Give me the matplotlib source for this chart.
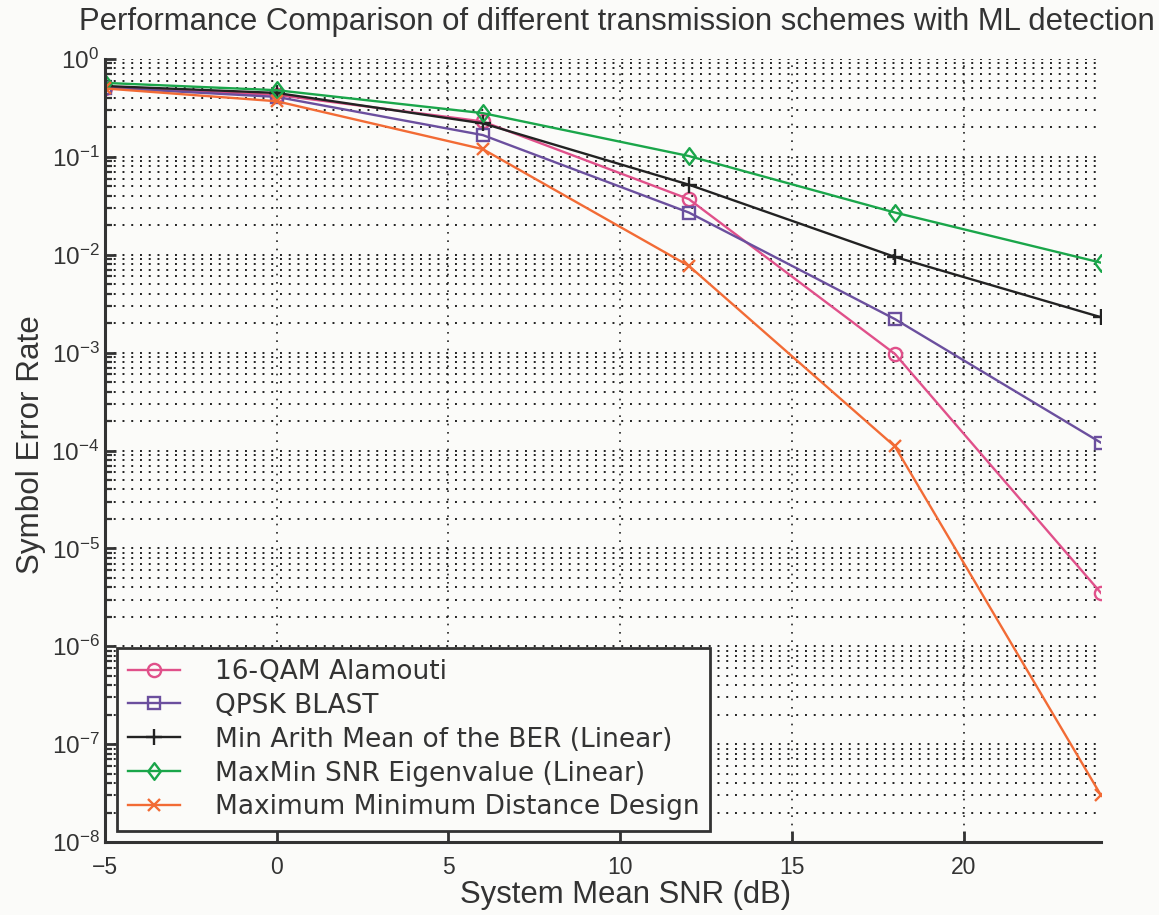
import matplotlib
matplotlib.use("Agg")
import matplotlib.pyplot as plt
from matplotlib.ticker import LogLocator, NullFormatter, FixedLocator
from matplotlib.path import Path

plt.rcParams['font.family'] = ['Liberation Sans', 'DejaVu Sans']

snr = [-5, 0, 6, 12, 18, 24]
ser_alamouti = [0.51, 0.43, 0.23, 0.037, 0.00097, 3.5e-6]
ser_blast = [0.51, 0.41, 0.167, 0.027, 0.0022, 1.2e-4]
ser_minarith = [0.53, 0.45, 0.22, 0.052, 0.0095, 0.0023]
ser_maxmin = [0.57, 0.48, 0.28, 0.102, 0.027, 0.0083]
ser_maxmindist = [0.50, 0.37, 0.12, 0.0077, 1.1e-4, 3.0e-8]

labels = ["16-QAM Alamouti", "QPSK BLAST", "Min Arith Mean of the BER (Linear)",
          "MaxMin SNR Eigenvalue (Linear)", "Maximum Minimum Distance Design"]
xticks = [-5, 0, 5, 10, 15, 20]

bg = '#fbfbf9'
txt = '#333333'
W, H = 1159, 915
fig = plt.figure(figsize=(W / 100, H / 100), dpi=100, facecolor=bg)
ax_l, ax_r, ax_t, ax_b = 105, 1101, 59, 842
ax = fig.add_axes([ax_l / W, 1 - ax_b / H, (ax_r - ax_l) / W, (ax_b - ax_t) / H], facecolor=bg)

diamond = Path([(0, 1), (0.75, 0), (0, -1), (-0.75, 0), (0, 1)],
               [Path.MOVETO, Path.LINETO, Path.LINETO, Path.LINETO, Path.CLOSEPOLY])

series = [
    (ser_alamouti, '#e0508a', 'o', 9.5, dict(markerfacecolor='none')),
    (ser_blast, '#6b4f9e', 's', 9, dict(markerfacecolor='none')),
    (ser_minarith, '#222222', '+', 12, dict()),
    (ser_maxmin, '#1aa64a', diamond, 12, dict(markerfacecolor='none')),
    (ser_maxmindist, '#f26b35', 'x', 9, dict()),
]
for (vals, col, mk, ms, kw), lab in zip(series, labels):
    ax.semilogy(snr, vals, color=col, marker=mk, markersize=ms, markeredgewidth=1.7,
                linewidth=1.7, label=lab, **kw)

ax.set_xlim(-5, 24)
ax.set_ylim(1e-8, 1)
ax.xaxis.set_major_locator(FixedLocator(xticks))
ax.yaxis.set_major_locator(LogLocator(base=10, numticks=20))
ax.yaxis.set_minor_locator(LogLocator(base=10, subs=range(2, 10), numticks=100))
ax.yaxis.set_minor_formatter(NullFormatter())

gls = (0, (1, 3.5))
ax.grid(True, which='major', axis='x', linestyle=(0, (1, 4)), color='#222222', linewidth=1.2)
ax.grid(True, which='major', axis='y', linestyle=gls, color='#222222', linewidth=1.4)
ax.grid(True, which='minor', axis='y', linestyle=gls, color='#222222', linewidth=1.4)

for s in ['top', 'right']:
    ax.spines[s].set_visible(False)
for s in ['left', 'bottom']:
    ax.spines[s].set_linewidth(2.2)
    ax.spines[s].set_color('#333333')

ax.tick_params(which='major', direction='in', length=8, width=2, colors='#333333',
               labelcolor=txt)
ax.tick_params(axis='x', which='major', labelsize=16.5, pad=10)
ax.tick_params(axis='y', which='major', labelsize=17.5, pad=4)
ax.tick_params(which='minor', direction='in', length=5, width=1.6, colors='#333333')

ax.set_xlabel("System Mean SNR (dB)", fontsize=22.4, color=txt)
ax.xaxis.label.set_va('baseline')
ax.xaxis.set_label_coords((625 - ax_l) / (ax_r - ax_l), -(903 - ax_b) / (ax_b - ax_t))
ax.set_ylabel("Symbol Error Rate", fontsize=22.6, color=txt)
ax.yaxis.label.set_va('center')
ax.yaxis.set_label_coords((31 - ax_l) / (ax_r - ax_l), (ax_b - 445) / (ax_b - ax_t))

ax.set_title("Performance Comparison of different transmission schemes with ML detection",
             fontsize=22.4, color=txt, pad=21, x=(617 - ax_l) / (ax_r - ax_l))

leg = ax.legend(loc='lower left', bbox_to_anchor=(0.012, 0.014), borderaxespad=0,
                prop={'family': 'DejaVu Sans', 'size': 19},
                frameon=True, fancybox=False, edgecolor='#333333', facecolor=bg,
                framealpha=1, handlelength=2.0, handletextpad=1.3, borderpad=0.4,
                labelspacing=0.3)
leg.get_frame().set_linewidth(2.0)
for t in leg.get_texts():
    t.set_color(txt)

fig.savefig("out.png", dpi=100, facecolor=bg)
